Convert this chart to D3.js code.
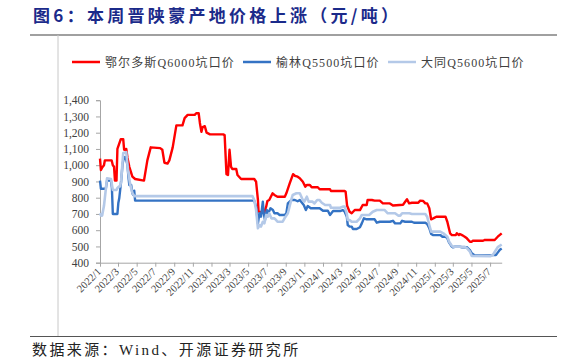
<!DOCTYPE html>
<html lang="zh">
<head>
<meta charset="UTF-8">
<title>图6：本周晋陕蒙产地价格上涨</title>
<script src="https://d3js.org/d3.v7.min.js"></script>
<style>
  body { margin: 0; background: #fff; }
  svg { display: block; }
</style>
</head>
<body>
<svg width="564" height="363"></svg>
<script>
  // 鄂尔多斯Q6000坑口价 (元/吨)
  const erdos = [
    ["2022-01-01",1040],["2022-01-04",970],["2022-01-08",985],["2022-01-14",1000],["2022-01-17",1030],
    ["2022-02-08",1030],["2022-02-12",1000],["2022-02-16",990],["2022-02-19",905],["2022-02-24",905],
    ["2022-02-27",1100],["2022-03-10",1160],["2022-03-18",1160],["2022-03-21",1095],["2022-03-28",1100],
    ["2022-04-01",1045],["2022-04-07",990],["2022-04-17",930],["2022-04-26",915],["2022-05-25",905],
    ["2022-06-05",1030],["2022-06-16",1110],["2022-07-17",1105],["2022-07-24",1095],["2022-07-31",1015],
    ["2022-08-10",1010],["2022-08-16",1030],["2022-08-27",1110],["2022-09-08",1245],["2022-09-28",1245],
    ["2022-10-05",1290],["2022-10-15",1310],["2022-11-07",1310],["2022-11-12",1320],["2022-11-20",1320],
    ["2022-11-24",1260],["2022-11-29",1205],["2022-12-03",1235],["2022-12-10",1240],["2022-12-16",1200],
    ["2022-12-27",1190],["2023-02-08",1190],["2023-02-13",1185],["2023-02-19",945],["2023-02-24",940],
    ["2023-03-01",1095],["2023-03-06",990],["2023-03-10",977],["2023-03-23",977],["2023-03-27",940],
    ["2023-04-08",915],["2023-05-21",915],["2023-05-27",898],["2023-06-02",786],["2023-06-04",714],
    ["2023-06-23",710],["2023-06-29",745],["2023-07-03",780],["2023-07-09",786],["2023-07-20",827],
    ["2023-07-26",817],["2023-08-05",806],["2023-08-29",806],["2023-09-03",827],["2023-09-14",888],
    ["2023-09-25",945],["2023-10-01",935],["2023-10-10",929],["2023-10-17",920],["2023-10-27",898],
    ["2023-11-04",868],["2023-11-09",878],["2023-11-19",878],["2023-11-25",864],["2023-12-15",864],
    ["2023-12-21",852],["2024-01-24",852],["2024-01-27",841],["2024-03-12",841],["2024-03-15",837],
    ["2024-03-20",750],["2024-03-28",714],["2024-04-04",704],["2024-04-14",724],["2024-05-01",724],
    ["2024-05-10",755],["2024-05-23",755],["2024-05-26",786],["2024-06-09",786],["2024-06-18",782],
    ["2024-07-05",782],["2024-07-15",765],["2024-08-07",765],["2024-08-17",752],["2024-09-19",757],
    ["2024-09-26",775],["2024-10-02",790],["2024-10-09",765],["2024-10-18",769],["2024-11-08",769],
    ["2024-11-14",782],["2024-11-24",780],["2024-12-01",765],["2024-12-07",765],["2024-12-14",735],
    ["2024-12-20",667],["2024-12-27",673],["2025-01-06",683],["2025-02-05",683],["2025-02-11",652],
    ["2025-02-20",581],["2025-02-26",570],["2025-03-11",570],["2025-03-14",581],["2025-03-21",570],
    ["2025-03-24",577],["2025-03-31",570],["2025-04-09",560],["2025-04-16",550],["2025-04-26",529],
    ["2025-05-02",529],["2025-05-05",535],["2025-06-08",535],["2025-06-14",540],["2025-07-16",540],
    ["2025-07-26",560],["2025-08-08",581]
  ];

  // 榆林Q5500坑口价
  const yulin = [
    ["2022-01-01",905],["2022-01-04",855],["2022-01-20",855],["2022-01-24",905],["2022-02-06",905],
    ["2022-02-09",860],["2022-02-12",700],["2022-02-27",700],["2022-03-02",767],["2022-03-05",796],
    ["2022-03-11",898],["2022-03-16",1010],["2022-03-21",1050],["2022-03-25",1050],["2022-03-28",1032],
    ["2022-04-01",1000],["2022-04-04",930],["2022-04-07",878],["2022-04-13",878],["2022-04-17",827],
    ["2022-04-20",817],["2022-04-23",843],["2022-04-26",782],["2023-05-21",782],["2023-05-27",745],
    ["2023-06-02",642],["2023-06-07",704],["2023-06-12",683],["2023-06-18",776],["2023-06-21",704],
    ["2023-06-25",663],["2023-07-01",724],["2023-07-06",704],["2023-07-13",735],["2023-07-21",724],
    ["2023-07-26",704],["2023-08-05",704],["2023-08-12",694],["2023-08-29",694],["2023-09-03",704],
    ["2023-09-08",765],["2023-09-19",786],["2023-10-01",786],["2023-10-10",778],["2023-10-17",786],
    ["2023-10-30",755],["2023-11-06",724],["2023-11-12",749],["2023-11-22",735],["2023-12-21",735],
    ["2024-01-01",720],["2024-01-17",720],["2024-01-24",694],["2024-02-03",718],["2024-02-26",718],
    ["2024-03-06",724],["2024-03-12",714],["2024-03-19",683],["2024-03-22",632],["2024-03-28",622],
    ["2024-04-04",622],["2024-04-08",607],["2024-04-20",607],["2024-05-01",618],["2024-05-07",642],
    ["2024-05-14",673],["2024-05-23",667],["2024-06-18",667],["2024-06-25",646],["2024-07-05",652],
    ["2024-08-07",652],["2024-08-17",658],["2024-08-24",642],["2024-09-10",642],["2024-09-16",658],
    ["2024-09-26",652],["2024-10-18",652],["2024-10-25",646],["2024-12-01",646],["2024-12-07",638],
    ["2024-12-14",612],["2024-12-20",577],["2024-12-27",570],["2025-01-19",570],["2025-01-26",560],
    ["2025-02-05",560],["2025-02-11",550],["2025-02-17",523],["2025-02-24",503],["2025-03-01",495],
    ["2025-03-08",498],["2025-03-24",498],["2025-03-31",495],["2025-04-16",495],["2025-04-26",478],
    ["2025-05-02",458],["2025-05-12",445],["2025-07-01",445],["2025-07-10",447],["2025-07-20",447],
    ["2025-07-26",462],["2025-08-02",480],["2025-08-08",488]
  ];

  // 大同Q5600坑口价
  const datong = [
    ["2022-01-01",704],["2022-01-04",690],["2022-01-08",690],["2022-01-14",750],["2022-01-17",800],
    ["2022-01-24",919],["2022-02-06",915],["2022-02-09",880],["2022-02-12",847],["2022-02-24",847],
    ["2022-02-27",860],["2022-03-05",870],["2022-03-08",870],["2022-03-11",900],["2022-03-15",1000],
    ["2022-03-18",1075],["2022-03-28",1080],["2022-04-01",1000],["2022-04-04",950],["2022-04-10",880],
    ["2022-04-17",830],["2022-04-23",810],["2023-05-15",810],["2023-05-21",786],["2023-05-27",724],
    ["2023-06-02",612],["2023-06-07",632],["2023-06-12",622],["2023-06-18",652],["2023-06-23",642],
    ["2023-06-29",694],["2023-07-04",683],["2023-07-09",704],["2023-07-16",673],["2023-07-26",673],
    ["2023-07-31",663],["2023-08-05",652],["2023-08-22",652],["2023-08-28",673],["2023-09-08",704],
    ["2023-09-19",786],["2023-09-24",817],["2023-10-06",827],["2023-10-17",827],["2023-10-27",786],
    ["2023-11-01",776],["2023-11-09",806],["2023-11-15",776],["2023-11-27",776],["2023-12-04",765],
    ["2023-12-13",786],["2023-12-20",786],["2023-12-28",769],["2024-01-08",755],["2024-01-24",755],
    ["2024-01-27",738],["2024-02-26",738],["2024-03-06",745],["2024-03-12",745],["2024-03-19",700],
    ["2024-03-22",663],["2024-03-28",663],["2024-04-04",652],["2024-04-20",652],["2024-05-01",673],
    ["2024-05-07",694],["2024-05-31",694],["2024-06-12",714],["2024-06-25",724],["2024-07-21",724],
    ["2024-07-31",704],["2024-08-24",704],["2024-09-03",690],["2024-09-10",690],["2024-09-16",704],
    ["2024-10-10",704],["2024-10-18",700],["2024-12-01",700],["2024-12-07",683],["2024-12-14",632],
    ["2024-12-20",591],["2025-01-19",591],["2025-01-29",581],["2025-02-11",560],["2025-02-17",529],
    ["2025-02-24",509],["2025-03-01",498],["2025-04-09",498],["2025-04-16",489],["2025-04-26",468],
    ["2025-05-02",442],["2025-07-01",440],["2025-07-10",447],["2025-07-16",466],["2025-07-26",496],
    ["2025-08-08",512]
  ];

  const seriesNames = ["鄂尔多斯Q6000坑口价", "榆林Q5500坑口价", "大同Q5600坑口价"];
  const seriesColors = ["#ff0000", "#3473c4", "#b4c9e8"];
  const yTicks = [400, 500, 600, 700, 800, 900, 1000, 1100, 1200, 1300, 1400];

  const parse = d3.timeParse("%Y-%m-%d");
  const series = [erdos, yulin, datong].map(s => s.map(([d, v]) => ({ date: parse(d), value: v })));

  const svg = d3.select("svg");
  const plotLeft = 100, plotRight = 501.7, plotTop = 100.2, plotBottom = 262.7;

  const x = d3.scaleTime()
    .domain([parse("2022-01-01"), parse("2025-08-08")])
    .range([plotLeft, plotRight]);

  const y = d3.scaleLinear()
    .domain([400, 1400])
    .range([plotBottom, plotTop]);

  // title
  svg.append("text")
    .attr("x", 33)
    .attr("y", 21.5)
    .attr("fill", "#1b2a8a")
    .attr("font-family", "'Noto Sans CJK SC', sans-serif")
    .attr("font-weight", 700)
    .attr("font-size", 17)
    .attr("letter-spacing", 3.3)
    .text("图6：本周晋陕蒙产地价格上涨（元/吨）");

  // frame lines
  svg.append("line").attr("x1", 30).attr("x2", 557).attr("y1", 35).attr("y2", 35)
    .attr("stroke", "#808080").attr("stroke-width", 1.3);
  svg.append("line").attr("x1", 58).attr("x2", 58).attr("y1", 35).attr("y2", 336)
    .attr("stroke", "#c8c8c8").attr("stroke-width", 1);
  svg.append("line").attr("x1", 30).attr("x2", 557).attr("y1", 336.5).attr("y2", 336.5)
    .attr("stroke", "#555").attr("stroke-width", 1);

  // legend
  const legendX = [72, 243, 388];
  const legend = svg.append("g");
  seriesNames.forEach((name, i) => {
    legend.append("line")
      .attr("x1", legendX[i]).attr("x2", legendX[i] + 28)
      .attr("y1", 62).attr("y2", 62)
      .attr("stroke", seriesColors[i]).attr("stroke-width", 2.5);
    legend.append("text")
      .attr("x", legendX[i] + 33)
      .attr("y", 66.5)
      .attr("fill", "#404040")
      .attr("font-family", "'Liberation Serif', 'Noto Sans CJK SC', serif")
      .attr("font-size", 12)
      .attr("letter-spacing", 1.1)
      .text(name);
  });

  // axes
  const yAxis = svg.append("g")
    .attr("transform", `translate(${plotLeft},0)`)
    .call(d3.axisLeft(y).tickValues(yTicks).tickFormat(d3.format(",")).tickSize(4).tickPadding(7));
  yAxis.selectAll("text")
    .attr("font-family", "'Liberation Serif', serif")
    .attr("font-size", 11.5)
    .attr("fill", "#404040");

  const xTicks = d3.timeMonth.range(parse("2022-01-01"), parse("2025-07-02"), 2);
  const xAxis = svg.append("g")
    .attr("transform", `translate(0,${plotBottom})`)
    .call(d3.axisBottom(x).tickValues(xTicks).tickFormat(d3.timeFormat("%Y/%-m")).tickSize(4).tickSizeOuter(0));
  xAxis.selectAll("text")
    .attr("font-family", "'Liberation Serif', serif")
    .attr("font-size", 10.5)
    .attr("fill", "#404040")
    .attr("text-anchor", "end")
    .attr("x", -6)
    .attr("y", 4)
    .attr("dy", "0.35em")
    .attr("transform", "rotate(-45)");

  [yAxis, xAxis].forEach(a => {
    a.select(".domain").attr("stroke", "#a6a6a6");
    a.selectAll(".tick line").attr("stroke", "#a6a6a6");
  });

  // series lines
  const line = d3.line()
    .x(d => x(d.date))
    .y(d => y(d.value));

  const widths = [2.4, 2.4, 2.6];
  series.forEach((s, i) => {
    svg.append("path")
      .datum(s)
      .attr("fill", "none")
      .attr("stroke", seriesColors[i])
      .attr("stroke-width", widths[i])
      .attr("stroke-linejoin", "round")
      .attr("d", line);
  });

  // source
  svg.append("text")
    .attr("x", 32)
    .attr("y", 354.5)
    .attr("fill", "#222")
    .attr("font-family", "'Liberation Serif', 'Noto Sans CJK SC', serif")
    .attr("font-size", 15)
    .attr("letter-spacing", 2.4)
    .text("数据来源：Wind、开源证券研究所");
</script>
</body>
</html>
